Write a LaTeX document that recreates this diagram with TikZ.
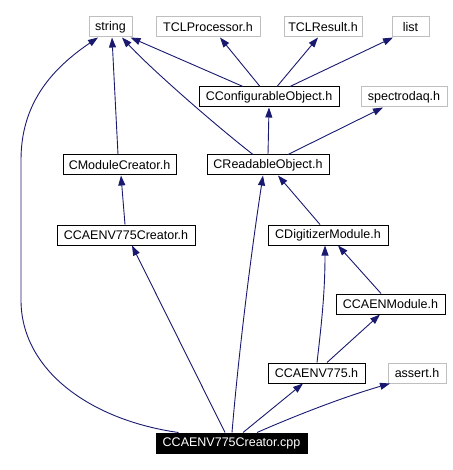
\documentclass[tikz,border=0pt]{standalone}
\usepackage{fontspec}
\setmainfont{Liberation Sans}
\usetikzlibrary{arrows.meta}
\definecolor{edgeblue}{HTML}{191970}
\definecolor{sysgray}{HTML}{BFBFBF}
\tikzset{
  base/.style={minimum height=20pt, inner sep=0pt, line width=1pt,
    font=\fontsize{12.5}{14}\selectfont, anchor=center, minimum width=#1},
  lbox/.style={base=#1, draw=black, fill=white, text=black},
  sbox/.style={base=#1, draw=sysgray, fill=white, text=black},
  rootbox/.style={base=#1, draw=black, fill=black, text=white},
  dep/.style={draw=edgeblue, line width=0.9pt, -{Triangle[length=10pt,width=7pt]}},
}
\begin{document}
\begin{tikzpicture}[x=1pt,y=-1pt]
\useasboundingbox (0,0) rectangle (452,470);
% nodes
\node[sbox=43pt]  (str)  at (110.5,27) {string};
\node[sbox=104pt] (tclp) at (208,27)   {TCLProcessor.h};
\node[sbox=78pt]  (tclr) at (323,27)   {TCLResult.h};
\node[sbox=37pt]  (lst)  at (410.5,27) {list};
\node[lbox=140pt] (cfg)  at (269,97)   {CConfigurableObject.h};
\node[sbox=86pt]  (spd)  at (404,97)   {spectrodaq.h};
\node[lbox=113pt] (mcr)  at (119.5,165){CModuleCreator.h};
\node[lbox=122pt] (rdo)  at (268,165)  {CReadableObject.h};
\node[lbox=138pt] (v7cr) at (126,235)  {CCAENV775Creator.h};
\node[lbox=120pt] (dig)  at (328,235)  {CDigitizerModule.h};
\node[lbox=109pt] (cmod) at (390.5,304){CCAENModule.h};
\node[lbox=97pt]  (v775) at (316.5,373){CCAENV775.h};
\node[sbox=58pt]  (ast)  at (417,373)  {assert.h};
\node[rootbox=151pt] (cpp) at (231.5,443) {CCAENV775Creator.cpp};
% edges from the root
\draw[dep] ([xshift=-53pt]cpp.north) .. controls (90,420) and (21,370) .. (21,300)
  -- (21,160) .. controls (21,105) and (50,70) .. ([xshift=-12.5pt]str.south);
\draw[dep] ([xshift=-6.5pt]cpp.north) -- ([xshift=6pt]v7cr.south);
\draw[dep] ([xshift=0.5pt]cpp.north) .. controls (238,360) and (250,260) .. ([xshift=-5pt]rdo.south);
\draw[dep] ([xshift=11.5pt]cpp.north) -- ([xshift=-13.5pt]v775.south);
\draw[dep] ([xshift=25.5pt]cpp.north) .. controls (290,418) and (340,398) .. ([xshift=-27pt]ast.south);
% lower edges
\draw[dep] ([xshift=0.5pt]v775.north) .. controls (322,320) and (325,290) .. ([xshift=-3pt]dig.south);
\draw[dep] ([xshift=10.5pt]v775.north) -- ([xshift=-10.5pt]cmod.south);
\draw[dep] ([xshift=-9.5pt]cmod.north) -- ([xshift=10pt]dig.south);
\draw[dep] ([xshift=-8pt]dig.north) -- ([xshift=10pt]rdo.south);
\draw[dep] ([xshift=-1pt]v7cr.north) -- ([xshift=1.5pt]mcr.south);
\draw[dep] ([xshift=-1.5pt]mcr.north) -- ([xshift=1.5pt]str.south);
% upper edges
\draw[dep] ([xshift=-15pt]rdo.north) .. controls (215,125) and (150,68) .. ([xshift=11.5pt]str.south);
\draw[dep] (rdo.north) -- (cfg.south);
\draw[dep] ([xshift=20pt]rdo.north) -- ([xshift=-21pt]spd.south);
\draw[dep] ([xshift=-26pt]cfg.north) -- ([xshift=-2pt]str.south east);
\draw[dep] ([xshift=-9pt]cfg.north) -- ([xshift=12pt]tclp.south);
\draw[dep] ([xshift=8pt]cfg.north) -- ([xshift=-5pt]tclr.south);
\draw[dep] ([xshift=21pt]cfg.north) -- ([xshift=-17.5pt]lst.south);
\end{tikzpicture}
\end{document}
